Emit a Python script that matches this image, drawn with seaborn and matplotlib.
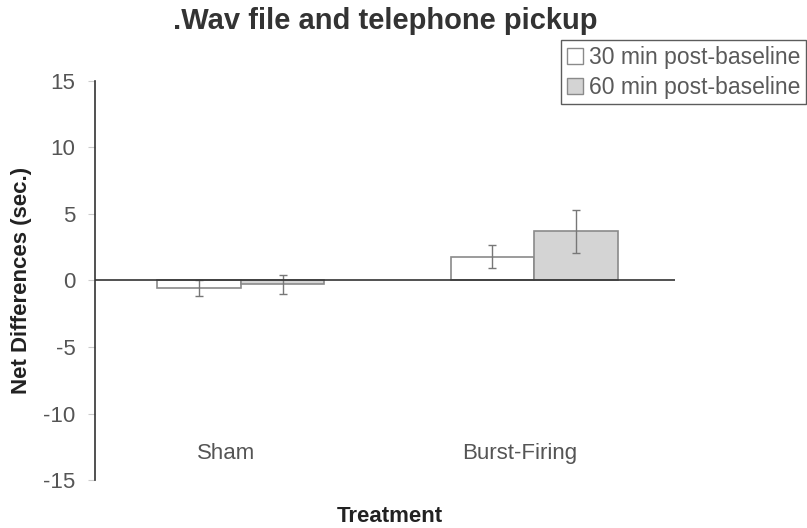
import matplotlib
matplotlib.use("Agg")
import matplotlib.pyplot as plt
import seaborn as sns
import pandas as pd
from matplotlib.patches import Patch

# Data
treatments = ["Sham", "Burst-Firing"]
series = ["30 min post-baseline", "60 min post-baseline"]
means_30 = [-0.6, 1.8]
means_60 = [-0.3, 3.7]
errs_30 = [0.6, 0.85]
errs_60 = [0.7, 1.6]
yticks = [-15, -10, -5, 0, 5, 10, 15]

sns.set_theme(style="white")
plt.rcParams["font.family"] = ["Liberation Sans", "DejaVu Sans"]

df = pd.DataFrame({
    "Treatment": treatments * 2,
    "Time": [series[0]] * 2 + [series[1]] * 2,
    "Value": means_30 + means_60,
})
errs = errs_30 + errs_60

fig = plt.figure(figsize=(8.07, 5.28), dpi=100)
ax = fig.add_axes([95 / 807, 1 - 480 / 528, 580 / 807, 399 / 528])

palette = {series[0]: "#ffffff", series[1]: "#d4d4d4"}
sns.barplot(data=df, x="Treatment", y="Value", hue="Time", order=treatments,
            hue_order=series, palette=palette, errorbar=None, width=0.57,
            edgecolor="#8a8a8a", linewidth=1.2, ax=ax, legend=False)

# Error bars centred on each bar (patch order: series 0 then series 1)
bars = [p for p in ax.patches][:4]
for p, v, e in zip(bars, df["Value"], errs):
    cx = p.get_x() + p.get_width() / 2
    ax.errorbar(cx, v, yerr=e, fmt="none", ecolor="#777777", elinewidth=1.0,
                capsize=3, capthick=1.0, zorder=5)

ax.set_xlim(-0.498, 1.481)
ax.set_ylim(-15, 15)
ax.axhline(0, color="#333333", linewidth=1.2, zorder=6)

ax.set_yticks(yticks)
ax.set_yticklabels([str(t) for t in yticks], fontsize=16, color="#555555")
ax.tick_params(axis="y", which="major", left=True, length=5, width=0.8,
               color="#cccccc", pad=9)
ax.set_xticks([])
ax.set_xlabel("")
ax.set_ylabel("Net Differences (sec.)", fontsize=16, fontweight="bold",
              color="#222222", labelpad=8)

for s in ["top", "right", "bottom"]:
    ax.spines[s].set_visible(False)
ax.spines["left"].set_color("#333333")
ax.spines["left"].set_linewidth(1.2)

# Category labels placed low inside the plot area
for i, t in enumerate(treatments):
    ax.text(i - 0.05, -13.0, t, ha="center", va="center", fontsize=16,
            color="#555555")

fig.text(390 / 807, 1 - 516 / 528, "Treatment", ha="center", va="center",
         fontsize=16, fontweight="bold", color="#222222")
fig.text(385 / 807, 1 - 21 / 528, ".Wav file and telephone pickup",
         ha="center", va="center", fontsize=21, fontweight="bold",
         color="#333333")

handles = [Patch(facecolor=palette[s], edgecolor="#8a8a8a", label=s) for s in series]
leg = fig.legend(handles=handles, loc="upper right",
                 bbox_to_anchor=(806 / 807, 1 - 40 / 528), fontsize=16.5,
                 frameon=True, fancybox=False, handlelength=0.7,
                 handleheight=0.7, handletextpad=0.25, borderpad=0.25,
                 labelspacing=0.3, borderaxespad=0)
leg.get_frame().set_edgecolor("#333333")
leg.get_frame().set_linewidth(1.0)
for txt in leg.get_texts():
    txt.set_color("#5a5a5a")

fig.savefig("out.png", dpi=100)
